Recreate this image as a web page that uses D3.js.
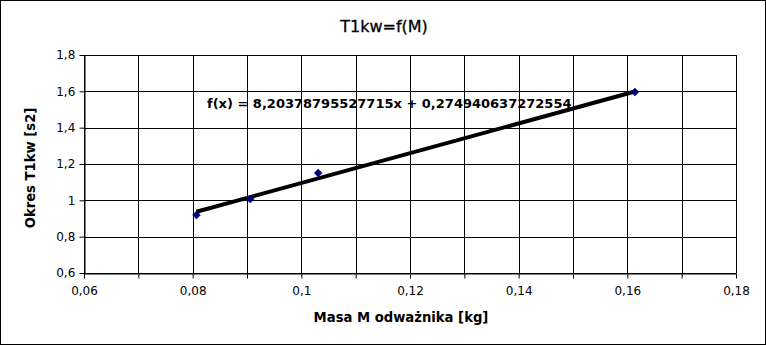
<!DOCTYPE html>
<html>
<head>
<meta charset="utf-8">
<script src="https://cdn.jsdelivr.net/npm/d3@7"></script>
<style>
  body { margin: 0; background: #fff; }
  text { font-family: "DejaVu Sans", sans-serif; }
</style>
</head>
<body>
<div id="chart"></div>
<script>
// measured points
var masses = [0.0807, 0.0906, 0.1031, 0.1614];
var periods = [0.919, 1.007, 1.150, 1.596];
// linear trend f(x) = a*x + b
var slope = 8.20378795527715;
var intercept = 0.274940637272554;
var xTicks = [0.06, 0.07, 0.08, 0.09, 0.1, 0.11, 0.12, 0.13, 0.14, 0.15, 0.16, 0.17, 0.18];
var yTicks = [0.6, 0.8, 1, 1.2, 1.4, 1.6, 1.8];

function draw() {
    var w = 766, h = 345;
    var left = 84, right = 736, top = 55, bottom = 273;

    var svg = d3.select("#chart").append("svg")
        .attr("width", w)
        .attr("height", h);

    // frame round the whole picture
    svg.append("rect")
        .attr("x", 0.5).attr("y", 0.5)
        .attr("width", w - 1).attr("height", h - 1)
        .attr("fill", "#fff")
        .attr("stroke", "#000");

    var x = d3.scaleLinear().domain([0.06, 0.18]).range([left, right]);
    var y = d3.scaleLinear().domain([0.6, 1.8]).range([bottom, top]);

    var fmt = function(d) { return String(+d.toFixed(2)).replace(".", ","); };

    // grid
    svg.append("g").selectAll("line")
        .data(xTicks)
        .enter().append("line")
        .attr("x1", d => Math.round(x(d)) + 0.5)
        .attr("x2", d => Math.round(x(d)) + 0.5)
        .attr("y1", top).attr("y2", bottom)
        .attr("stroke", "#000");
    svg.append("g").selectAll("line")
        .data(yTicks)
        .enter().append("line")
        .attr("y1", d => Math.round(y(d)) + 0.5)
        .attr("y2", d => Math.round(y(d)) + 0.5)
        .attr("x1", left).attr("x2", right)
        .attr("stroke", "#000");

    // axes
    var xAxis = svg.append("g")
        .attr("transform", "translate(0," + (Math.round(bottom) + 0.5) + ")")
        .call(d3.axisBottom(x).tickValues(xTicks).tickSize(5).tickSizeOuter(0)
            .tickFormat(d => (Math.round(d * 100) % 2 === 0) ? fmt(d) : ""));
    xAxis.selectAll("text").attr("font-size", 12).attr("fill", "#000").attr("dy", "1.1em");

    var yAxis = svg.append("g")
        .attr("transform", "translate(" + (left + 0.5) + ",0)")
        .call(d3.axisLeft(y).tickValues(yTicks).tickSize(5).tickSizeOuter(0).tickFormat(fmt));
    yAxis.selectAll("text").attr("font-size", 12).attr("fill", "#000").attr("dx", "-0.1em");
    svg.selectAll(".domain").attr("stroke", "#000");

    // trend line
    var xs = [d3.min(masses), d3.max(masses)];
    svg.append("line")
        .attr("x1", x(xs[0])).attr("y1", y(slope * xs[0] + intercept))
        .attr("x2", x(xs[1])).attr("y2", y(slope * xs[1] + intercept))
        .attr("stroke", "#000")
        .attr("stroke-width", 4);

    // points
    svg.append("g").selectAll("path")
        .data(masses)
        .enter().append("path")
        .attr("d", d3.symbol().type(d3.symbolDiamond2).size(40))
        .attr("transform", (d, i) => "translate(" + x(d) + "," + y(periods[i]) + ")")
        .attr("fill", "#000080")
        .attr("stroke", "#000080")
        .attr("stroke-width", 0.5);

    // equation label
    svg.append("text")
        .attr("x", 207).attr("y", 108)
        .attr("font-size", 13).attr("font-weight", "bold")
        .text("f(x) = " + String(slope).replace(".", ",") + "x + " + String(intercept).replace(".", ","));

    // title and axis labels
    svg.append("text")
        .attr("x", 384).attr("y", 32)
        .attr("text-anchor", "middle")
        .attr("font-size", 16)
        .attr("stroke", "#000").attr("stroke-width", 0.3)
        .text("T1kw=f(M)");
    svg.append("text")
        .attr("x", 401).attr("y", 322)
        .attr("text-anchor", "middle")
        .attr("font-size", 13.2).attr("font-weight", "bold")
        .text("Masa M odważnika [kg]");
    svg.append("text")
        .attr("transform", "translate(35,168) rotate(-90)")
        .attr("text-anchor", "middle")
        .attr("font-size", 13.2).attr("font-weight", "bold")
        .text("Okres T1kw [s2]");
}
window.onload = draw;
</script>
</body>
</html>
